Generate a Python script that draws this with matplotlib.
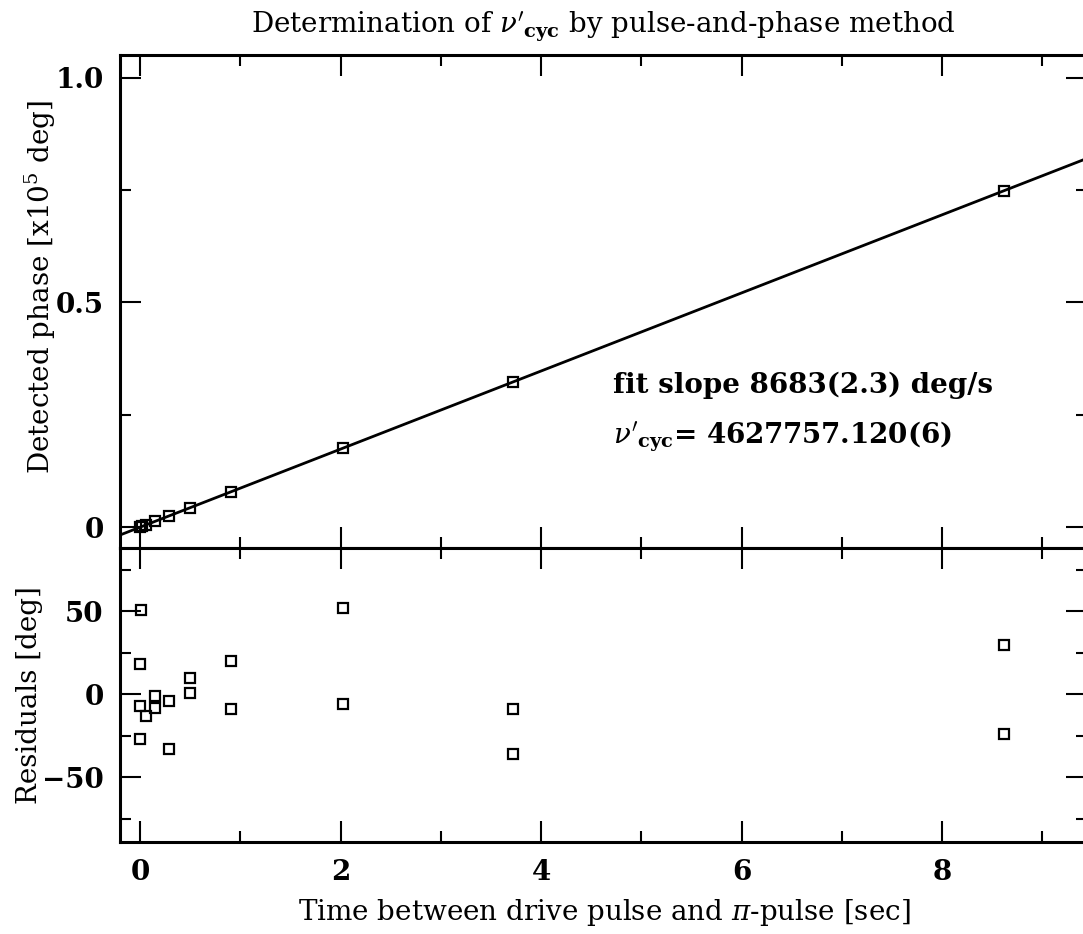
import numpy as np
import matplotlib.pyplot as plt
from matplotlib.ticker import MultipleLocator

plt.rcParams['font.family'] = 'DejaVu Serif'
plt.rcParams['mathtext.fontset'] = 'dejavuserif'

# Phase data (units of 1e5 deg) vs time between pulses
t_phase = [0.0, 0.02, 0.06, 0.15, 0.29, 0.50, 0.91, 2.02, 3.72, 8.62]
phase = [0.000, 0.002, 0.005, 0.013, 0.025, 0.043, 0.079, 0.175, 0.323, 0.748]

# Residuals of the fit (deg)
t_res = [0.01, 0.0, 0.0, 0.06, 0.0, 0.15, 0.15, 0.29, 0.29, 0.50, 0.50,
         0.91, 0.91, 2.02, 2.02, 3.72, 3.72, 8.62, 8.62]
resid = [51, 18, -7, -13, -27, -1, -8, -4, -33, 10, 1,
         20, -9, 52, -6, -9, -36, 30, -24]

fit_slope = 8683.0  # deg/s
fit_intercept = 0.0

fig = plt.figure(figsize=(10.83, 9.34), dpi=100)
ax1 = fig.add_axes([0.111, 0.413, 0.893, 0.528])
ax2 = fig.add_axes([0.111, 0.0985, 0.893, 0.3145], sharex=ax1)

# upper panel
ax1.plot(t_phase, phase, 's', ms=7, mfc='none', mec='black', mew=1.6)
xx = np.array([-0.2, 9.5])
ax1.plot(xx, fit_intercept + fit_slope * xx / 1e5, '-', color='black', lw=2)
ax1.set_xlim(-0.2, 9.45)
ax1.set_ylim(-0.047, 1.05)
ax1.yaxis.set_major_locator(MultipleLocator(0.5))
ax1.yaxis.set_minor_locator(MultipleLocator(0.25))
ax1.set_yticks([0, 0.5, 1.0], ['0', '0.5', '1.0'])
ax1.set_ylabel(r'Detected phase [x10$^5$ deg]', fontsize=20)
ax1.yaxis.set_label_coords(-0.064, 0.53)
ax1.tick_params(axis='x', labelbottom=False)
ax1.set_title(r"Determination of $\nu'_\mathbf{cyc}$ by pulse-and-phase method",
              fontsize=20, pad=16)
ax1.text(4.72, 0.316, 'fit slope 8683(2.3) deg/s', fontsize=20,
         fontweight='bold', va='center', ha='left')
ax1.text(4.72, 0.2, r"$\nu'_\mathbf{cyc}$" + '= 4627757.120(6)', fontsize=20,
         fontweight='bold', va='center', ha='left')

# lower panel
ax2.plot(t_res, resid, 's', ms=7, mfc='none', mec='black', mew=1.6)
ax2.set_ylim(-89, 88)
ax2.yaxis.set_major_locator(MultipleLocator(50))
ax2.yaxis.set_minor_locator(MultipleLocator(25))
ax2.set_ylabel('Residuals [deg]', fontsize=20)
ax2.yaxis.set_label_coords(-0.08, 0.5)
ax2.set_xlabel(r'Time between drive pulse and $\pi$-pulse [sec]', fontsize=20,
               labelpad=8)
ax2.xaxis.set_major_locator(MultipleLocator(2))
ax2.xaxis.set_minor_locator(MultipleLocator(1))

for ax in (ax1, ax2):
    for sp in ax.spines.values():
        sp.set_linewidth(2.2)
    ax.tick_params(which='both', direction='in', top=True, right=True,
                   width=1.5, labelsize=20, pad=12)
    ax.tick_params(which='major', length=15)
    ax.tick_params(which='minor', length=8)
    for lab in ax.get_xticklabels() + ax.get_yticklabels():
        lab.set_fontweight('bold')

fig.savefig('out.png', dpi=100)
